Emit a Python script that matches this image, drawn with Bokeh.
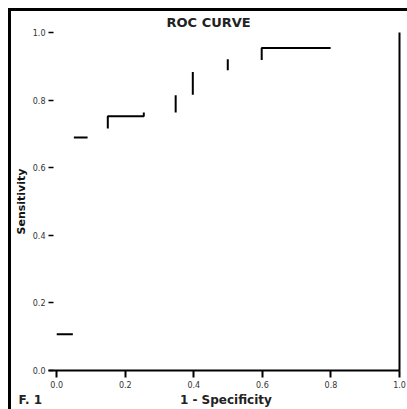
from bokeh.plotting import figure
from bokeh.models import LinearAxis, Range1d, Title, FixedTicker, PrintfTickFormatter
from bokeh.embed import file_html
from bokeh.resources import INLINE

# ROC step segments (1 - specificity, sensitivity)
roc_fpr_segments = [[0.0, 0.047], [0.05, 0.09], [0.149, 0.149, 0.254, 0.254],
                    [0.347, 0.347], [0.397, 0.397], [0.499, 0.499], [0.598, 0.598, 0.799]]
roc_tpr_segments = [[0.107, 0.107], [0.689, 0.689], [0.716, 0.752, 0.752, 0.763],
                    [0.763, 0.814], [0.816, 0.883], [0.888, 0.921], [0.919, 0.954, 0.954]]
x_ticks = [0.0, 0.2, 0.4, 0.6, 0.8, 1.0]
y_ticks = [0.0, 0.2, 0.4, 0.6, 0.8, 1.0]
title_text = "ROC CURVE"
x_label = "1 - Specificity"
y_label = "Sensitivity"
fig_label = "F. 1"

p = figure(width=407, height=409, output_backend="svg", toolbar_location=None,
           x_range=Range1d(-0.024, 1.0), y_range=Range1d(0.0, 1.0),
           min_border_left=48, min_border_right=8, min_border_top=32, min_border_bottom=39,
           x_axis_location=None, y_axis_location=None)
p.outline_line_color = None
p.xgrid.visible = False
p.ygrid.visible = False
p.background_fill_color = "white"
p.border_fill_color = None
p.styles = {"background": "linear-gradient(black, black) 8px 8px / 3px 401px no-repeat, "
                          "linear-gradient(black, black) 8px 8px / 399px 3px no-repeat, white"}

p.title.text = title_text
p.title.align = "left"
p.title.offset = 118
p.title.text_font = "DejaVu Sans"
p.title.text_font_size = "13px"
p.title.text_font_style = "bold"
p.title.text_color = "#222222"
p.title.standoff = 5

xa = LinearAxis(ticker=FixedTicker(ticks=x_ticks), formatter=PrintfTickFormatter(format="%.1f"))
xa.axis_line_width = 2
xa.axis_line_color = "black"
xa.major_tick_out = 7
xa.major_tick_in = 0
xa.major_tick_line_width = 2
xa.minor_tick_line_color = None
xa.major_label_text_font = "DejaVu Sans"
xa.major_label_text_font_size = "8px"
xa.major_label_text_color = "#333333"
xa.major_label_standoff = 3
p.add_layout(xa, "below")

ya = LinearAxis(ticker=FixedTicker(ticks=y_ticks), formatter=PrintfTickFormatter(format="%.1f"))
ya.axis_line_color = None
ya.major_tick_in = 5
ya.major_tick_out = 0
ya.major_tick_line_width = 1.5
ya.minor_tick_line_color = None
ya.major_label_text_font = "DejaVu Sans"
ya.major_label_text_font_size = "8px"
ya.major_label_text_color = "#333333"
ya.major_label_standoff = 3
ya.axis_label = y_label
ya.axis_label_text_font = "DejaVu Sans"
ya.axis_label_text_font_size = "11px"
ya.axis_label_text_font_style = "bold"
ya.axis_label_text_color = "#111111"
ya.axis_label_standoff = 2
p.add_layout(ya, "left")

ra = LinearAxis(ticker=FixedTicker(ticks=[]))
ra.axis_line_width = 2
ra.axis_line_color = "black"
ra.major_tick_line_color = None
ra.minor_tick_line_color = None
ra.major_label_text_font_size = "0px"
p.add_layout(ra, "right")

p.multi_line(xs=roc_fpr_segments, ys=roc_tpr_segments, line_color="black", line_width=2)

# figure number and x-axis title share one row under the tick labels
bottom_text = fig_label + "\u00a0" * 33 + x_label
p.add_layout(Title(text=bottom_text, align="left", offset=-30, standoff=0,
                   text_font="DejaVu Sans", text_font_size="12px", text_font_style="bold",
                   text_color="#222222"), "below")

open("out.html", "w").write(file_html(p, INLINE))
